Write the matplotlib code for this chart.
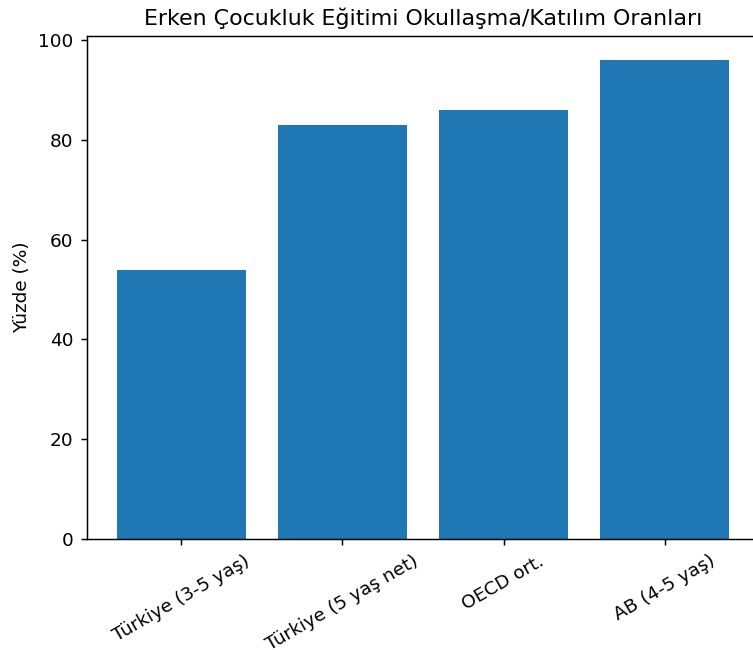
import matplotlib
matplotlib.use("Agg")
import matplotlib.pyplot as plt

categories = ["Türkiye (3-5 yaş)", "Türkiye (5 yaş net)", "OECD ort.", "AB (4-5 yaş)"]
values = [54, 83, 86, 96]

s = 1.33
plt.rcParams.update({
    "font.size": 10 * s,
    "axes.linewidth": 0.8 * s,
    "xtick.major.width": 0.8 * s,
    "ytick.major.width": 0.8 * s,
    "xtick.major.size": 3.5 * s,
    "ytick.major.size": 3.5 * s,
    "xtick.major.pad": 3.5 * s,
    "ytick.major.pad": 3.5 * s,
    "axes.labelpad": 4 * s,
    "axes.titlepad": 6 * s,
})

fig = plt.figure(figsize=(7.53, 6.5), dpi=100)
left, right, top, bottom = 86.5, 759.5, 36, 539
ax = fig.add_axes([left/753, 1-bottom/650, (right-left)/753, (bottom-top)/650])
ax.bar(categories, values, color="#1f77b4")
ax.set_ylabel("Yüzde (%)")
ax.set_title("Erken Çocukluk Eğitimi Okullaşma/Katılım Oranları", fontsize=12 * s)
plt.setp(ax.get_xticklabels(), rotation=30)
fig.savefig("out.png", dpi=100)
